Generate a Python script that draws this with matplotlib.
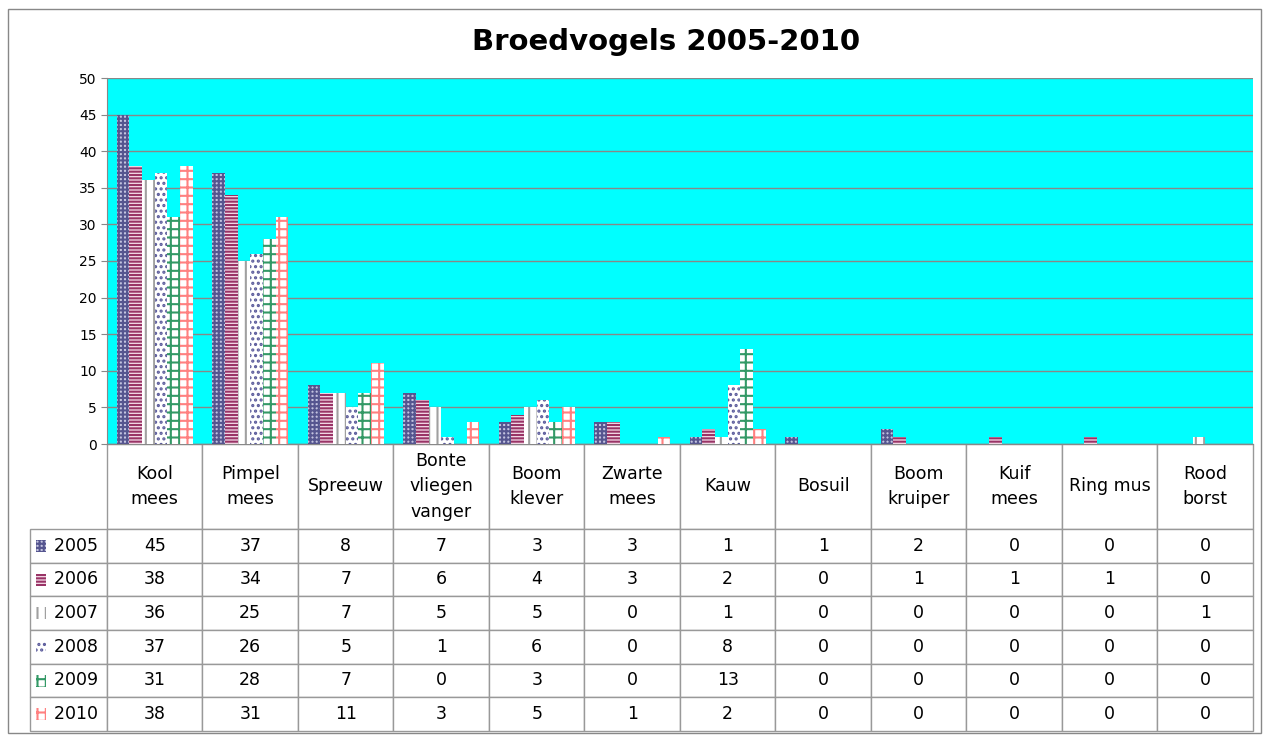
import numpy as np
import matplotlib
matplotlib.use('Agg')
import matplotlib.pyplot as plt
from matplotlib.patches import Rectangle

soorten = ['Kool\nmees', 'Pimpel\nmees', 'Spreeuw', 'Bonte\nvliegen\nvanger',
           'Boom\nklever', 'Zwarte\nmees', 'Kauw', 'Bosuil', 'Boom\nkruiper',
           'Kuif\nmees', 'Ring mus', 'Rood\nborst']
jaren = ['2005', '2006', '2007', '2008', '2009', '2010']
j2005 = [45, 37, 8, 7, 3, 3, 1, 1, 2, 0, 0, 0]
j2006 = [38, 34, 7, 6, 4, 3, 2, 0, 1, 1, 1, 0]
j2007 = [36, 25, 7, 5, 5, 0, 1, 0, 0, 0, 0, 1]
j2008 = [37, 26, 5, 1, 6, 0, 8, 0, 0, 0, 0, 0]
j2009 = [31, 28, 7, 0, 3, 0, 13, 0, 0, 0, 0, 0]
j2010 = [38, 31, 11, 3, 5, 1, 2, 0, 0, 0, 0, 0]
reeksen = [j2005, j2006, j2007, j2008, j2009, j2010]

# face, hatch colour, hatch
stijlen = [('#c4c4e0', '#55558f', '++++'),
           ('#f4dce8', '#993366', '-----'),
           ('white', '#a0a0a0', '||'),
           ('white', '#5c5c9c', '...'),
           ('white', '#339966', '++'),
           ('white', '#ff8080', '++')]

plt.rcParams['hatch.linewidth'] = 1.5
W, H = 1269, 735
fig = plt.figure(figsize=(W / 100, H / 100), dpi=100)
fig.patches.append(Rectangle((8 / W, 2 / H), 1253 / W, 724 / H, transform=fig.transFigure,
                             fill=False, edgecolor='#888888', lw=1))

x0, x1, ytop, ybot = 107, 1253, 78, 444
ax = fig.add_axes([x0 / W, 1 - ybot / H, (x1 - x0) / W, (ybot - ytop) / H])
ax.set_facecolor('#00ffff')

n = len(soorten)
x = np.arange(n)
bw = 0.8 / 6
for i, (vals, (fc, hc, hatch)) in enumerate(zip(reeksen, stijlen)):
    ax.bar(x - 0.4 + bw * (i + 0.5), vals, bw, facecolor=fc, edgecolor=hc,
           hatch=hatch, linewidth=0, zorder=3)

ax.set_xlim(-0.5, n - 0.5)
ax.set_ylim(0, 50)
ax.set_yticks(range(0, 51, 5))
ax.set_xticks([])
ax.tick_params(axis='y', labelsize=10, color='#888888', length=4)
ax.grid(axis='y', color='#888888', lw=1, zorder=1)
for s in ['top', 'right']:
    ax.spines[s].set_visible(False)
ax.spines['left'].set_color('#888888')
ax.spines['bottom'].set_color('#888888')

fig.text(0.525, 1 - 42 / H, 'Broedvogels 2005-2010', ha='center', va='center',
         fontsize=21, fontweight='bold')

# tabel onder de grafiek
axw, axh = x1 - x0, ybot - ytop
tleft, tbot = 30, 731
kolb = (x1 - x0) / n
cel = [['    ' + j] + [str(v) for v in r] for j, r in zip(jaren, reeksen)]
tab = ax.table(cellText=cel, colLabels=[''] + soorten, cellLoc='center',
               bbox=[(tleft - x0) / axw, -(tbot - ybot) / axh,
                     (x1 - tleft) / axw, (tbot - ybot) / axh])
tab.auto_set_font_size(False)
for (r, c), cell in tab.get_celld().items():
    cell.set_edgecolor('#999999')
    cell.set_linewidth(1)
    cell.get_text().set_fontsize(12.5)
    if r == 0:
        cell.set_height(cell.get_height() * 85 / 33.7)
        cell.get_text().set_linespacing(1.55)
        if c == 0:
            cell.visible_edges = 'open'
    if c == 0:
        cell.set_width((1 / n) * 77 / kolb)
        cell._loc = 'left'
        cell.PAD = 0.02
        cell.get_text().set_horizontalalignment('left')
    else:
        cell.set_width(1 / n)

# legend-icoontjes in de rijlabels
rijh = (tbot - 529) / 6
for i, (fc, hc, hatch) in enumerate(stijlen):
    yc = 529 + rijh * (i + 0.5)
    ax.add_patch(Rectangle(((36 - x0) / axw, -(yc + 6 - ybot) / axh), 10 / axw, 12 / axh,
                           transform=ax.transAxes, clip_on=False, facecolor=fc,
                           edgecolor=hc, hatch=hatch, linewidth=0, zorder=5))

fig.savefig('out.png', dpi=100)
